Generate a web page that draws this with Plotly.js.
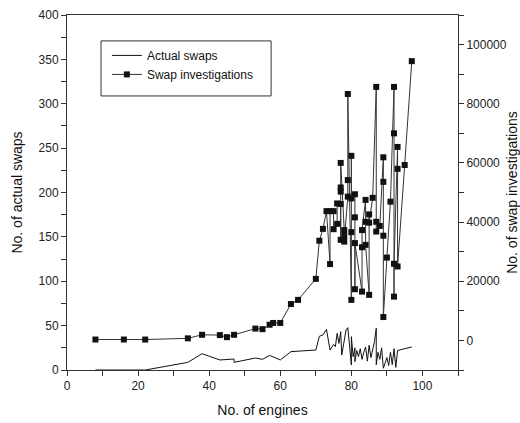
<!DOCTYPE html>
<html>
<head>
<meta charset="utf-8">
<script src="https://cdn.plot.ly/plotly-3.0.1.min.js"></script>
<style>
  html, body { margin: 0; padding: 0; background: #fff; }
  #chart { width: 520px; height: 423px; }
</style>
</head>
<body>
<div id="chart"></div>
<script>
// Actual swaps (left axis) against number of engines
const swapEngines = [8, 16, 22, 34, 38, 43, 47, 47, 53, 55, 57, 60, 63, 70, 71, 72, 73, 74, 75, 75.5, 76, 76.5, 77, 77.3, 78.5, 79, 79.5, 80, 80, 80.5, 81, 81, 81.5, 82, 82.5, 83, 83.5, 84, 84.5, 85, 85.5, 86, 86.5, 87, 87, 87.5, 88, 88.5, 89, 89.5, 90, 90.5, 91, 91.5, 92, 92.5, 93, 97];
const actualSwaps = [0, 0, 0, 8.6, 18.4, 11.3, 12.4, 8.6, 13.5, 12, 16.5, 11.3, 20.7, 22.5, 38, 39.4, 45.8, 22.5, 28.9, 26.3, 41.3, 30, 43.2, 16.9, 45, 47.7, 26.3, 5.6, 37.6, 15, 25, 9.4, 22, 15, 24, 12, 20, 26, 10, 28, 14, 22, 32, 47, 6, 20, 12, 25, 2, 8, 14, 5, 20, 6, 24, 3, 22, 26];

// Swap investigations (right axis) against number of engines
const invEngines = [8, 16, 22, 34, 38, 43, 45, 47, 53, 55, 57, 58, 60, 63, 65, 70, 71, 72, 73, 74, 74, 75, 75, 76, 76, 77, 77, 77, 77, 77, 78, 78, 78, 79, 79, 79, 80, 80, 80, 80, 81, 81, 81, 81, 83, 83, 83, 84, 84, 84, 85, 85, 85, 86, 87, 87, 87, 88, 89, 89, 89, 89, 90, 91, 92, 92, 92, 92, 93, 93, 93, 95, 97];
const swapInvestigations = [300, 300, 300, 700, 1900, 1800, 1100, 1900, 4000, 3800, 5300, 5900, 5900, 12300, 13700, 20800, 33700, 37700, 43700, 25800, 43700, 43700, 37600, 39400, 46300, 46100, 34000, 50300, 51700, 60000, 37300, 35300, 33400, 48600, 54200, 83300, 13700, 36600, 62400, 48000, 49400, 41600, 17300, 32900, 16500, 31500, 37300, 47500, 40100, 32300, 15400, 42600, 39800, 48200, 85700, 40100, 36800, 38700, 61900, 53600, 35400, 7900, 28000, 46900, 85700, 70000, 14800, 25900, 65400, 58000, 25000, 59300, 94400];

const seriesNames = ['Actual swaps', 'Swap investigations'];
const xTitle = 'No. of engines';
const yTitle = 'No. of actual swaps';
const y2Title = 'No. of swap investigations';

const FONT = 'Liberation Sans, Arial, sans-serif';
const AXIS = '#333';

const traces = [
  {
    x: swapEngines, y: actualSwaps, name: seriesNames[0],
    type: 'scatter', mode: 'lines',
    line: { color: '#111', width: 1 },
    xaxis: 'x', yaxis: 'y'
  },
  {
    x: invEngines, y: swapInvestigations, name: seriesNames[1],
    type: 'scatter', mode: 'lines+markers',
    line: { color: '#333', width: 1 },
    marker: { symbol: 'square', size: 6, color: '#111' },
    xaxis: 'x', yaxis: 'y2'
  }
];

const tickFont = { family: FONT, size: 12, color: '#222' };
const titleFont = { family: FONT, size: 14, color: '#111' };

const layout = {
  width: 520, height: 423,
  margin: { l: 67, r: 62, t: 15, b: 53 },
  paper_bgcolor: '#fff', plot_bgcolor: '#fff',
  showlegend: true,
  legend: {
    x: 0.102, y: 0.927, xanchor: 'left', yanchor: 'top',
    bgcolor: 'rgba(0,0,0,0)', borderwidth: 0,
    font: { family: FONT, size: 12, color: '#111' },
    tracegroupgap: 0
  },
  xaxis: {
    range: [0, 110], dtick: 20, tick0: 0,
    showgrid: false, zeroline: false,
    showline: true, linecolor: AXIS, linewidth: 1, mirror: true,
    ticks: 'outside', ticklen: 5, tickcolor: AXIS,
    minor: { dtick: 10, ticks: 'outside', ticklen: 5, tickcolor: AXIS, showgrid: false },
    tickfont: tickFont,
    title: { text: xTitle, font: titleFont, standoff: 12 }
  },
  xaxis2: {
    range: [0, 110], overlaying: 'x', side: 'top', anchor: 'y',
    showgrid: false, zeroline: false, showline: false,
    dtick: 10, tick0: 0,
    ticks: 'inside', ticklen: 5, tickcolor: AXIS,
    showticklabels: false
  },
  yaxis: {
    range: [0, 400], dtick: 50, tick0: 0,
    showgrid: false, zeroline: false,
    showline: true, linecolor: AXIS, linewidth: 1,
    ticks: 'outside', ticklen: 5, tickcolor: AXIS,
    minor: { dtick: 25, ticks: 'outside', ticklen: 5, tickcolor: AXIS, showgrid: false },
    tickfont: tickFont,
    title: { text: yTitle, font: titleFont, standoff: 12 }
  },
  yaxis2: {
    range: [-10000, 110000], dtick: 20000, tick0: 0,
    overlaying: 'y', side: 'right', anchor: 'x',
    showgrid: false, zeroline: false,
    showline: true, linecolor: AXIS, linewidth: 1,
    ticks: 'outside', ticklen: 5, tickcolor: AXIS,
    minor: { dtick: 10000, ticks: 'outside', ticklen: 5, tickcolor: AXIS, showgrid: false },
    tickfont: tickFont, tickformat: 'd',
    title: { text: y2Title, font: titleFont, standoff: 10 }
  },
  shapes: [
    {
      type: 'rect', xref: 'paper', yref: 'paper',
      x0: 0.087, x1: 0.522, y0: 0.772, y1: 0.927,
      line: { color: AXIS, width: 1 }, fillcolor: 'rgba(0,0,0,0)'
    }
  ]
};

Plotly.newPlot('chart', traces, layout, { staticPlot: true, displayModeBar: false });
</script>
</body>
</html>
